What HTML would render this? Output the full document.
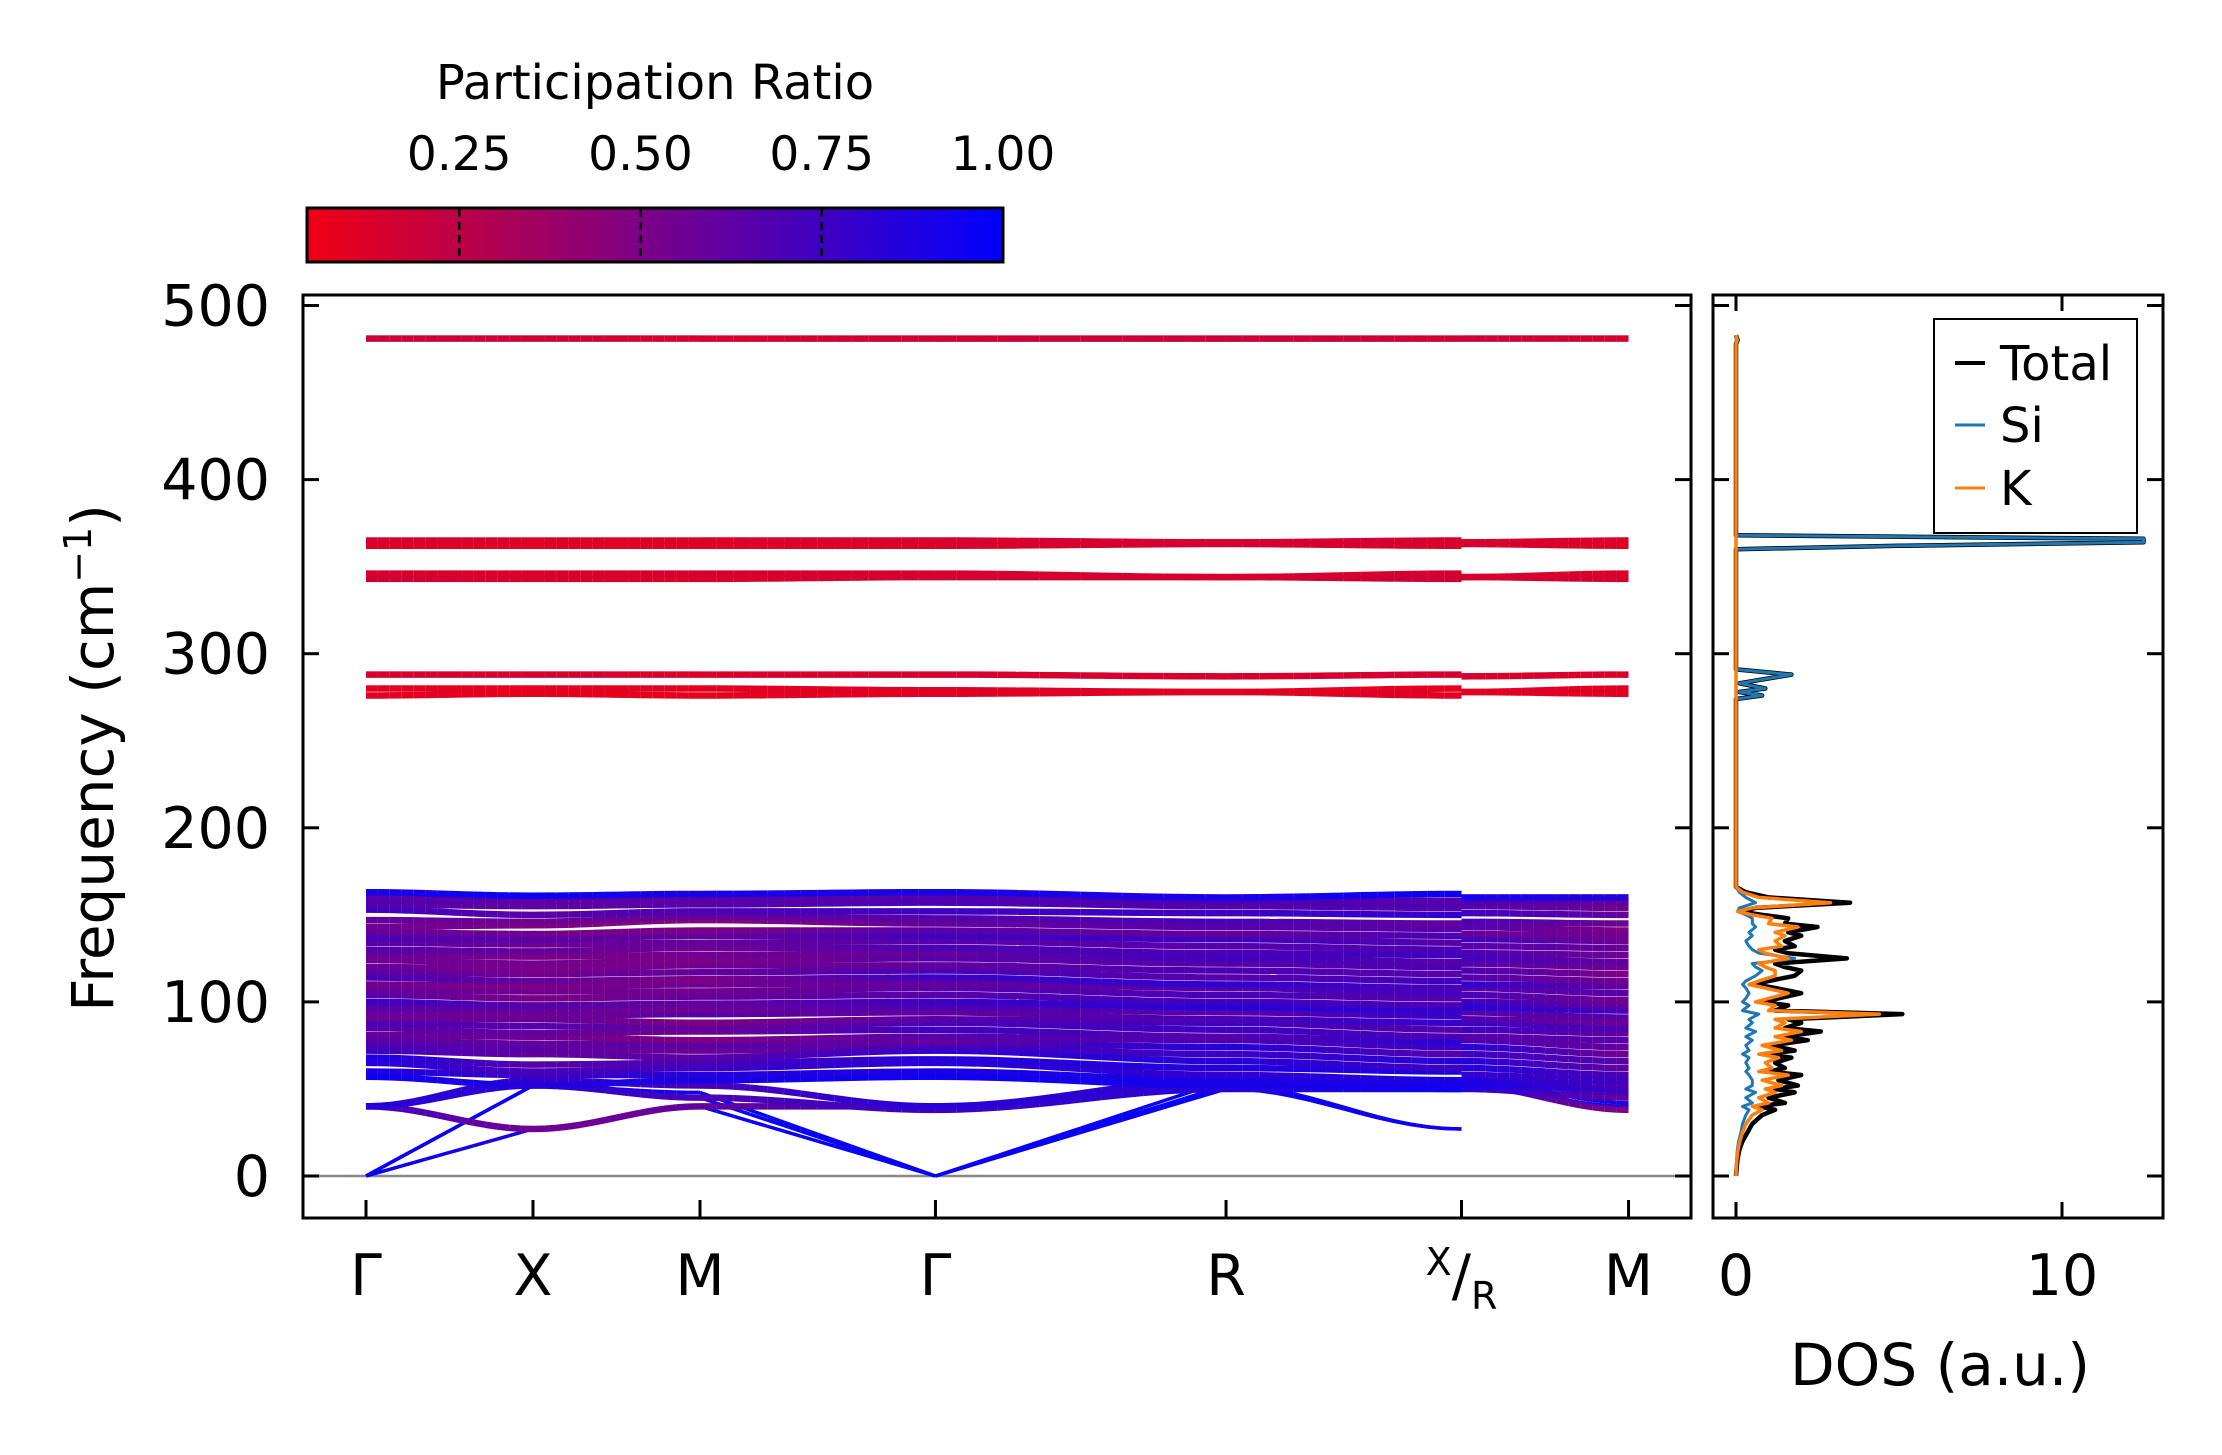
<!DOCTYPE html>
<html><head><meta charset="utf-8"><style>
html,body{margin:0;padding:0;background:#fff;}
svg{display:block;font-family:"DejaVu Sans","Liberation Sans",sans-serif;}
</style></head><body>
<svg id="fig" width="2222" height="1455" viewBox="0 0 2222 1455" xmlns="http://www.w3.org/2000/svg">
<defs>
<linearGradient id="cbg" x1="0" x2="1" y1="0" y2="0">
<stop offset="0" stop-color="rgb(240,0,20)"/><stop offset="0.5" stop-color="rgb(120,0,138)"/><stop offset="1" stop-color="rgb(0,0,255)"/>
</linearGradient>
<clipPath id="clipMain"><rect x="303" y="295" width="1388" height="923"/></clipPath>
<clipPath id="clipDos"><rect x="1713" y="295" width="450" height="923"/></clipPath>
</defs>
<g id="colorbar">
<text x="655" y="99" font-size="48" text-anchor="middle">Participation Ratio</text>
<rect x="307" y="208" width="696" height="54" fill="url(#cbg)" stroke="#000" stroke-width="3"/>
</g>
<g id="bands" clip-path="url(#clipMain)"></g>
<g id="dos" clip-path="url(#clipDos)"></g>
<g id="axes"></g>
<g id="legend">
<rect x="1934" y="319" width="203" height="214" fill="#fff" stroke="#000" stroke-width="2"/>
<line x1="1955" x2="1985" y1="363" y2="363" stroke="#000" stroke-width="4"/>
<text x="2000" y="380" font-size="48">Total</text>
<line x1="1955" x2="1985" y1="425" y2="425" stroke="#1f77b4" stroke-width="3"/>
<text x="2000" y="442" font-size="48">Si</text>
<line x1="1955" x2="1985" y1="488" y2="488" stroke="#ff7f0e" stroke-width="3"/>
<text x="2000" y="505" font-size="48">K</text>
</g>
<text x="1940" y="1385" font-size="58" text-anchor="middle">DOS (a.u.)</text>
<text transform="translate(113,758) rotate(-90)" font-size="58" text-anchor="middle">Frequency (cm<tspan dy="-22" font-size="38">−1</tspan><tspan dy="22">)</tspan></text>
</svg>
<script>
const NS="http://www.w3.org/2000/svg";
// k-path: Γ X M Γ R X | R M
const kNodes=[0,1,2,3.41,5.15,6.56,6.56,7.56];
const kLabels=["Γ","X","M","Γ","R","X/R","M"];
const kLabelPos=[0,1,2,3.41,5.15,6.56,7.56];
const yTicks=[0,100,200,300,400,500];
const cbTicks=[0.25,0.50,0.75,1.00];
// bands: frequencies at nodes [Γ,X,M,Γ,R,X,R,M]
const acoustic1=[0,27,40,0,50,27,52,40];
const acoustic2=[0,52,48,0,52,27,52,40];
const acoustic3=[0,52,45,0,55,50,55,42];
const bands=[acoustic1,acoustic2,acoustic3,
[40,27,40,40,52,50,52,38],[40,52,45,38,50,50,50,45],[40,55,52,40,55,52,55,48],
[57,52,55,57,52,50,52,50],[60,58,58,60,55,53,55,52],[65,60,62,65,58,55,58,55],
[68,64,65,67,62,60,62,58],[72,70,68,72,66,62,66,62],[75,73,72,74,70,66,70,66],
[78,76,75,77,74,70,74,70],[81,80,78,80,78,74,78,74],[85,82,83,84,80,77,80,78],
[88,86,85,88,84,80,84,82],[91,90,88,90,88,84,88,85],[94,92,93,94,90,88,90,88],
[97,95,96,97,94,92,94,91],[100,98,99,100,97,95,97,95],[104,102,103,104,100,98,100,98],
[107,106,106,108,104,102,104,101],[110,109,110,111,108,105,108,105],[114,112,113,114,110,108,110,109],
[117,116,117,118,114,112,114,112],[120,119,121,121,118,116,118,116],[124,122,124,125,122,120,122,120],
[127,126,127,128,125,123,125,123],[130,129,131,131,128,127,128,127],[134,133,134,135,132,130,132,131],
[137,136,138,138,136,134,136,135],[140,139,141,141,139,138,139,138],[143,144,147,145,143,142,143,141],
[147,146,149,148,146,145,146,145],[153,150,152,152,151,150,151,150],[156,155,156,157,155,154,155,154],
[158,158,158,158,157,156,157,157],[160,160,160,161,158,158,158,159],[163,161,162,163,160,162,160,160],
[276,277,276,277,278,276,278,277],[280,280,280,279,278,280,278,280],[288,288,288,288,287,288,287,288],
[343,343,343,344,344,343,344,343],[346,346,346,346,344,346,344,346],[362,362,362,362,363,362,363,362],
[365,365,365,365,364,365,364,365],[481,481,481,481,481,481,481,481]];
// participation ratio per band at nodes [Γ,X,M,Γ,R,X,R,M]
const bandPR=[[.97,.9,.97,.97,.95,.95,.95,.9],[.97,.95,.95,.97,.95,.95,.95,.9],[.97,.95,.95,.97,.95,.9,.95,.9],
[.75,.55,.6,.75,.8,.85,.8,.5],[.8,.85,.7,.75,.85,.85,.85,.6],[.85,.8,.7,.85,.8,.8,.8,.7],
[.95,.85,.9,.95,.9,.95,.9,.75],[.9,.75,.85,.9,.9,.9,.9,.7],[.85,.7,.75,.85,.8,.9,.8,.75],
[.9,.65,.7,.85,.85,.9,.85,.7],[.75,.6,.65,.8,.85,.75,.85,.6],[.7,.65,.55,.75,.75,.85,.75,.65],
[.65,.6,.65,.6,.85,.65,.85,.55],[.6,.55,.5,.65,.7,.75,.7,.6],[.65,.6,.55,.75,.65,.85,.65,.65],
[.7,.65,.6,.7,.75,.7,.75,.6],[.55,.6,.5,.65,.75,.65,.75,.7],[.6,.55,.65,.6,.7,.8,.7,.55],
[.65,.6,.55,.7,.65,.75,.65,.65],[.75,.65,.6,.75,.85,.8,.85,.7],[.65,.5,.6,.65,.75,.7,.75,.6],
[.6,.55,.55,.65,.7,.65,.7,.55],[.55,.5,.55,.6,.65,.75,.65,.65],[.7,.6,.5,.75,.8,.7,.8,.6],
[.65,.55,.6,.7,.65,.75,.65,.55],[.6,.5,.55,.6,.7,.65,.7,.5],[.55,.55,.5,.65,.65,.7,.65,.55],
[.6,.5,.55,.6,.75,.65,.75,.6],[.65,.6,.55,.7,.7,.75,.7,.55],[.65,.55,.6,.65,.65,.7,.65,.6],
[.7,.65,.6,.75,.75,.65,.75,.55],[.6,.55,.5,.65,.6,.7,.6,.55],[.55,.5,.45,.6,.65,.65,.65,.5],
[.6,.55,.6,.65,.7,.6,.7,.55],[.75,.65,.7,.75,.75,.8,.75,.6],[.65,.6,.65,.7,.65,.65,.65,.55],
[.7,.65,.65,.7,.7,.7,.7,.6],[.65,.6,.65,.65,.7,.65,.7,.6],[.9,.95,.9,.9,.9,.95,.9,.85],
[.1,.08,.08,.1,.12,.1,.12,.08],[.1,.08,.1,.1,.1,.08,.1,.1],[.15,.15,.12,.15,.15,.15,.15,.12],
[.18,.15,.12,.18,.2,.18,.2,.15],[.15,.12,.15,.15,.15,.15,.15,.12],[.12,.1,.1,.12,.15,.12,.15,.1],
[.15,.12,.12,.15,.15,.15,.15,.12],[.2,.18,.15,.18,.2,.18,.2,.15]];
// DOS data
const dosFreq=[0,5,10,15,20,25,30,35,38,40,42,45,48,50,52,55,58,60,62,65,68,70,72,75,78,80,83,85,88,90,93,95,98,100,102,105,108,110,112,115,118,120,122,125,128,130,132,135,138,140,143,145,148,150,152,154,157,160,163,166,274,276,278,280,283,288,291,360,362,364,366,368,478,480,483];
const dosTotal=[0,.02,.05,.1,.2,.35,.5,.8,1.2,.7,1.5,1.0,1.8,1.2,1.9,1.3,2.0,1.0,1.5,1.2,1.7,.9,1.8,1.1,2.2,1.5,2.6,1.5,2.0,1.6,5.1,1.2,1.6,.8,1.3,2.0,1.2,.6,1.0,1.8,2.0,1.5,1.2,3.4,1.6,1.2,1.8,1.5,2.0,1.6,2.5,1.5,1.6,.8,.1,.6,3.5,1.0,.3,0,0,.8,.1,.9,.1,1.7,0,0,5,12.5,12.5,0,0,.05,0];
const dosSi=[0,.01,.02,.04,.08,.15,.2,.3,.4,.2,.5,.3,.6,.3,.5,.5,.4,.3,.4,.3,.4,.2,.4,.3,.5,.3,.6,.3,.5,.4,.7,.2,.4,.2,.3,.4,.3,.2,.3,.6,.8,.6,.5,1.8,.7,.5,.4,.3,.5,.4,.6,.5,.5,.3,.05,.1,.6,.3,.1,0,0,.8,.1,.9,.1,1.7,0,0,5,12.5,12.5,0,0,.01,0];
const dosK=[0,.01,.03,.06,.12,.2,.3,.5,.8,.5,1.0,.7,1.2,.9,1.4,.8,1.6,.7,1.1,.9,1.3,.7,1.4,.8,1.7,1.2,2.0,1.2,1.5,1.2,4.4,1.0,1.2,.6,1.0,1.6,.9,.4,.7,1.2,1.2,.9,.7,1.6,.9,.7,1.4,1.2,1.5,1.2,1.9,1.0,1.1,.5,.05,.5,2.9,.7,.2,0,0,0,0,0,0,0,0,0,0,0,0,0,0,.04,0];
const dosTicks=[0,10];

const X0=366, KU=167, Y0=1176, YU=1.741;
const xs=k=>X0+k*KU;
const ys=f=>Y0-f*YU;
const dx=v=>1736+v*32.6;
const cbx=v=>307+(v-0.04)/0.96*696;
function prColor(p){let t=(p-0.04)/0.96;t=Math.max(0,Math.min(1,t));
 const r=Math.round(240*(1-t)),b=Math.round(20+235*t);return `rgb(${r},0,${b})`;}
function mk(tag,attrs,parent){const e=document.createElementNS(NS,tag);for(const k in attrs)e.setAttribute(k,attrs[k]);parent.appendChild(e);return e;}

const cb=document.getElementById('colorbar');
cbTicks.forEach(v=>{
 const t=mk('text',{x:cbx(v),y:170,'font-size':47,'text-anchor':'middle'},cb);
 
 
 t.textContent=v.toFixed(2);
 if(v<1){const l=mk('line',{x1:cbx(v),x2:cbx(v),y1:209,y2:261,stroke:'#000','stroke-width':2.5,'stroke-dasharray':'8,5'},cb);
 
 }
});

const bg=document.getElementById('bands');
const zl=mk('line',{x1:303,x2:1691,y1:ys(0),y2:ys(0),stroke:'#888','stroke-width':2.5},bg);


const segs=[[0,1],[1,2],[2,3],[3,4],[4,5],[6,7]];
const ease=t=>(1-Math.cos(Math.PI*t))/2;
bands.forEach((b,bi)=>{
 const g=mk('g',{},bg);
 
 
 segs.forEach(([a,c])=>{
  const N=14;
  const acousticSeg=(b[a]===0||b[c]===0);
  const sh=t=>acousticSeg?t:ease(t);
  for(let i=0;i<N;i++){
   const t0=i/N,t1=(i+1)/N,tm=(i+.5)/N;
   const f0=b[a]+(b[c]-b[a])*sh(t0),f1=b[a]+(b[c]-b[a])*sh(t1);
   const p=bandPR[bi][a]+(bandPR[bi][c]-bandPR[bi][a])*tm;
   mk('line',{x1:xs(kNodes[a]+(kNodes[c]-kNodes[a])*t0),x2:xs(kNodes[a]+(kNodes[c]-kNodes[a])*t1),y1:ys(f0),y2:ys(f1),stroke:prColor(p),'stroke-width':bi<3?3.5:6.5,'stroke-linecap':'butt'},g);
  }
 });
});

const dg=document.getElementById('dos');
function dosLine(vals,color,w,name){
 const pts=dosFreq.map((f,i)=>dx(vals[i]).toFixed(1)+','+ys(f).toFixed(1)).join(' ');
 const p=mk('polyline',{points:pts,fill:'none',stroke:color,'stroke-width':w,'stroke-linejoin':'round'},dg);
 
 
}
dosLine(dosTotal,'#000',4.5,'dos-total');
dosLine(dosSi,'#1f77b4',3,'dos-si');
dosLine(dosK,'#ff7f0e',3.5,'dos-k');

const ax=document.getElementById('axes');
const r1=mk('rect',{x:303,y:295,width:1388,height:923,fill:'none',stroke:'#000','stroke-width':3},ax);


const r2=mk('rect',{x:1713,y:295,width:450,height:923,fill:'none',stroke:'#000','stroke-width':3},ax);


yTicks.forEach(v=>{
 [[303,1],[1691,-1],[1713,1],[2163,-1]].forEach(([x,d])=>{
  const l=mk('line',{x1:x,x2:x+d*16,y1:ys(v),y2:ys(v),stroke:'#000','stroke-width':3},ax);
  
  
 });
 const t=mk('text',{x:270,y:ys(v)+20,'font-size':57,'text-anchor':'end'},ax);
 
 
 t.textContent=v;
});
kLabelPos.forEach((k,i)=>{
 const l=mk('line',{x1:xs(k),x2:xs(k),y1:1218,y2:1200,stroke:'#000','stroke-width':3},ax);
 
 
 const t=mk('text',{x:xs(k),y:1295,'font-size':57,'text-anchor':'middle'},ax);
 
 
 if(kLabels[i]==='X/R'){
  t.innerHTML='<tspan font-size="38" dy="-20">X</tspan><tspan dy="20">/</tspan><tspan font-size="38" dy="14">R</tspan>';
 } else t.textContent=kLabels[i];
});
dosTicks.forEach(v=>{
 [[1218,-1],[295,1]].forEach(([y,d])=>{
  const l=mk('line',{x1:dx(v),x2:dx(v),y1:y,y2:y+d*16,stroke:'#000','stroke-width':3},ax);
  
  
 });
 const t=mk('text',{x:dx(v),y:1295,'font-size':57,'text-anchor':'middle'},ax);
 
 
 t.textContent=v;
});
</script>
</body></html>
